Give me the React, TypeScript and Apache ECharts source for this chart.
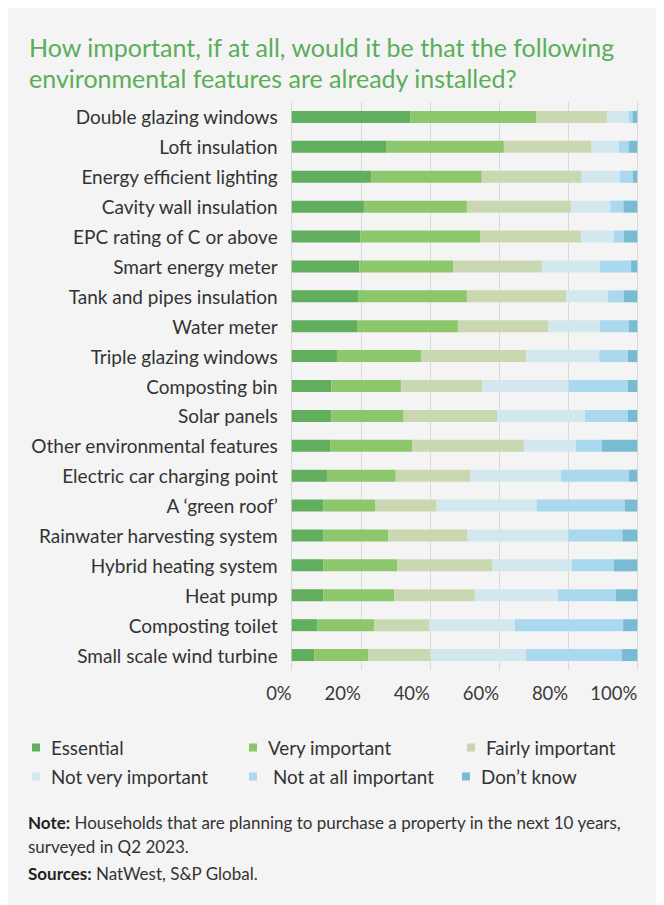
import React, { useEffect, useRef } from "react";
import * as echarts from "echarts";

const categories = [
  "Double glazing windows",
  "Loft insulation",
  "Energy efficient lighting",
  "Cavity wall insulation",
  "EPC rating of C or above",
  "Smart energy meter",
  "Tank and pipes insulation",
  "Water meter",
  "Triple glazing windows",
  "Composting bin",
  "Solar panels",
  "Other environmental features",
  "Electric car charging point",
  "A \u2018green roof\u2019",
  "Rainwater harvesting system",
  "Hybrid heating system",
  "Heat pump",
  "Composting toilet",
  "Small scale wind turbine",
];

const essential = [34.3, 27.3, 23.0, 20.9, 19.8, 19.6, 19.2, 18.9, 13.1, 11.5, 11.5, 11.1, 10.2, 9.1, 9.1, 9.1, 9.1, 7.3, 6.5];
const veryImportant = [36.4, 34.1, 32.0, 29.8, 34.7, 27.1, 31.5, 29.2, 24.3, 20.1, 20.9, 23.7, 19.9, 15.0, 18.8, 21.4, 20.5, 16.5, 15.6];
const fairlyImportant = [20.5, 25.2, 28.9, 30.1, 29.2, 25.7, 28.7, 26.1, 30.5, 23.6, 27.0, 32.4, 21.5, 17.8, 23.0, 27.6, 23.4, 16.1, 18.1];
const notVeryImportant = [6.3, 8.1, 11.0, 11.4, 9.5, 16.8, 12.1, 15.0, 21.1, 24.9, 25.5, 15.0, 26.3, 29.0, 29.1, 23.0, 24.0, 24.7, 27.6];
const notAtAllImportant = [1.1, 2.8, 3.8, 3.8, 2.9, 9.0, 4.6, 8.4, 8.3, 17.2, 12.4, 7.6, 19.7, 25.5, 15.7, 12.1, 16.8, 31.3, 27.7];
const dontKnow = [1.4, 2.5, 1.3, 4.0, 3.9, 1.8, 3.9, 2.4, 2.7, 2.7, 2.7, 10.2, 2.4, 3.6, 4.3, 6.8, 6.2, 4.1, 4.5];

const seriesNames = [
  "Essential",
  "Very important",
  "Fairly important",
  "Not very important",
  "Not at all important",
  "Don\u2019t know",
];
const seriesData = [essential, veryImportant, fairlyImportant, notVeryImportant, notAtAllImportant, dontKnow];
const colors = ["#62ae5f", "#8dc76c", "#c9d8b0", "#d3e8ee", "#a9d8ef", "#7abbd4"];

const xTicks = [0, 20, 40, 60, 80, 100];

const titleLines = [
  "How important, if at all, would it be that the following",
  "environmental features are already installed?",
];

const FONT = "Lato, 'Open Sans', sans-serif";

export default function App() {
  const ref = useRef<HTMLDivElement>(null);

  useEffect(() => {
    if (!ref.current) return;
    const chart = echarts.init(ref.current, undefined, { renderer: "svg" });

    // legend positions (chart coords): [left, top]
    const legendPos: [number, number][] = [
      [24, 730],
      [241, 730],
      [459, 730],
      [24, 759],
      [241, 759],
      [454, 759],
    ];
    const legendTextPad = [6, 6, 6, 6, 11, 6];

    const option: any = {
      animation: false,
      backgroundColor: "#f4f4f4",
      textStyle: { fontFamily: FONT },
      grid: {
        left: 283.7,
        width: 345.6,
        top: 94,
        height: 568,
        containLabel: false,
      },
      xAxis: {
        type: "value",
        min: 0,
        max: 100,
        interval: 20,
        axisLine: { show: false },
        axisTick: { show: false },
        splitLine: { show: true, lineStyle: { color: "#d9d9d9", width: 1 } },
        axisLabel: {
          formatter: (v: number) => (xTicks.includes(v) ? v + "%" : ""),
          fontSize: 18.5,
          color: "#3a3a3a",
          fontFamily: FONT,
          align: "right",
          margin: 13,
        },
      },
      yAxis: {
        type: "category",
        data: categories,
        inverse: true,
        axisLine: { show: false },
        axisTick: { show: false },
        splitLine: { show: false },
        axisLabel: {
          fontSize: 19,
          color: "#333333",
          fontFamily: FONT,
          margin: 14,
        },
      },
      legend: seriesNames.map((name, i) => ({
        data: [name],
        left: legendPos[i][0],
        top: legendPos[i][1],
        orient: "horizontal",
        icon: "rect",
        itemWidth: 8,
        itemHeight: 8,
        padding: 0,
        selectedMode: false,
        textStyle: {
          fontSize: 18.8,
          color: "#333333",
          fontFamily: FONT,
          padding: [0, 0, 0, legendTextPad[i]],
        },
      })),
      series: seriesNames.map((name, i) => ({
        name,
        type: "bar",
        stack: "total",
        data: seriesData[i],
        barWidth: 12,
        itemStyle: { color: colors[i] },
        emphasis: { disabled: true },
      })),
      graphic: [
        {
          type: "text",
          left: 21,
          top: 26,
          style: {
            text: titleLines[0],
            fill: "#5aae5a",
            font: `25px ${FONT}`,
          },
        },
        {
          type: "text",
          left: 21,
          top: 57,
          style: {
            text: titleLines[1],
            fill: "#5aae5a",
            font: `25px ${FONT}`,
          },
        },
        {
          type: "text",
          left: 20,
          top: 802,
          style: {
            text: "{b|Note:} Households that are planning to purchase a property in the next 10 years,\nsurveyed in Q2 2023.",
            fill: "#333333",
            font: `17px ${FONT}`,
            lineHeight: 24,
            rich: {
              b: { fontWeight: "bold", fontSize: 17, fill: "#222222", fontFamily: FONT, lineHeight: 24 },
            },
          },
        },
        {
          type: "text",
          left: 20,
          top: 857,
          style: {
            text: "{b|Sources:} NatWest, S&P Global.",
            fill: "#333333",
            font: `17px ${FONT}`,
            rich: {
              b: { fontWeight: "bold", fontSize: 17, fill: "#222222", fontFamily: FONT },
            },
          },
        },
      ],
    };

    chart.setOption(option);
    return () => chart.dispose();
  }, []);

  return <div ref={ref} style={{ width: 656, height: 897 }} />;
}
